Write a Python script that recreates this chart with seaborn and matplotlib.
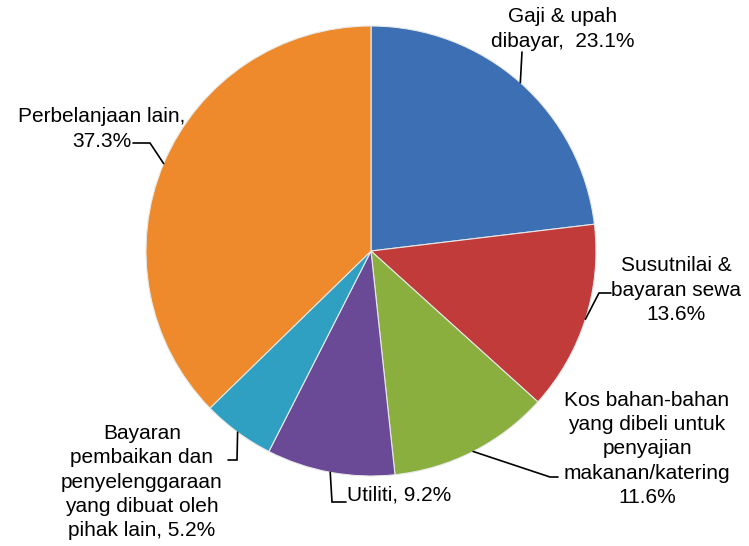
import numpy as np
import matplotlib
matplotlib.use("Agg")
import matplotlib.pyplot as plt
import seaborn as sns

# data
categories = ["Gaji & upah\ndibayar,  23.1%",
              "Susutnilai &\nbayaran sewa\n13.6%",
              "Kos bahan-bahan\nyang dibeli untuk\npenyajian\nmakanan/katering\n11.6%",
              "Utiliti, 9.2%",
              "Bayaran\npembaikan dan\npenyelenggaraan\nyang dibuat oleh\npihak lain, 5.2%",
              "Perbelanjaan lain,\n37.3%"]
shares = [23.1, 13.6, 11.6, 9.2, 5.2, 37.3]
colors = ["#3C6FB3", "#C03B3A", "#8AAF3F", "#6A4A97", "#2FA0C1", "#EE8A2B"]

# label layout in pixel coords (x, y from top): text anchor, alignment, leader elbow + end
label_xy = [(563, 29), (676, 290), (647, 449), (347, 495), (142, 482), (102, 129)]
label_ha = ["center", "center", "center", "left", "center", "center"]
leader_pts = [[(522, 52)],
              [(599, 293), (611, 293)],
              [(550, 477), (558, 477)],
              [(332, 502), (346, 502)],
              [(237, 460), (228, 460)],
              [(150, 143), (133, 143)]]

W, H = 749, 546
cx, cy, r = 371, 251, 225

sns.set_theme(style="white")
plt.rcParams["font.family"] = ["Liberation Sans", "DejaVu Sans"]

fig = plt.figure(figsize=(W / 100, H / 100), dpi=100)
ax = fig.add_axes([0, 0, 1, 1])

wedges, _ = ax.pie(shares, colors=colors, startangle=90, counterclock=False,
                   center=(cx, H - cy), radius=r,
                   wedgeprops=dict(edgecolor="#E8E8E8", linewidth=0.8))
ax.set_xlim(0, W)
ax.set_ylim(0, H)
ax.set_aspect("equal")
ax.axis("off")

for w, lab, (tx, ty), ha, pts in zip(wedges, categories, label_xy, label_ha, leader_pts):
    mid = np.deg2rad((w.theta1 + w.theta2) / 2)
    sx = cx + r * np.cos(mid)
    sy = (H - cy) + r * np.sin(mid)
    xs = [sx] + [p[0] for p in pts]
    ys = [sy] + [H - p[1] for p in pts]
    ax.plot(xs, ys, color="black", lw=1.2, solid_joinstyle="miter")
    ax.text(tx, H - ty, lab, ha=ha, va="center", fontsize=15,
            linespacing=1.35, color="black", multialignment="center")

fig.savefig("out.png", dpi=100)
